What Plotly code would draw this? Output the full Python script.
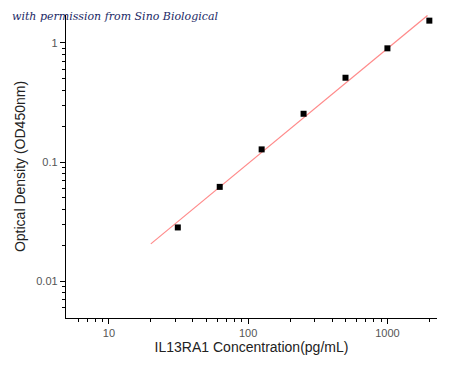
import numpy as np
import plotly.graph_objects as go

concentration = [31.25, 62.5, 125, 250, 500, 1000, 2000]
od450 = [0.0283, 0.0619, 0.1276, 0.2537, 0.5085, 0.897, 1.53]
fit_x_range = [20, 1940]
x_tick_vals = [10, 100, 1000]
x_tick_text = ["10", "100", "1000"]
y_tick_vals = [0.01, 0.1, 1]
y_tick_text = ["0.01", "0.1", "1"]
x_minor = [6, 7, 8, 9, 20, 30, 40, 50, 60, 70, 80, 90, 200, 300, 400, 500, 600, 700, 800, 900, 2000]
y_minor = [0.006, 0.007, 0.008, 0.009, 0.02, 0.03, 0.04, 0.05, 0.06, 0.07, 0.08, 0.09,
           0.2, 0.3, 0.4, 0.5, 0.6, 0.7, 0.8, 0.9]

# linear regression in log-log space
slope, intercept = np.polyfit(np.log10(concentration), np.log10(od450), 1)
fx = np.array(fit_x_range, dtype=float)
fy = 10 ** (intercept + slope * np.log10(fx))

fig = go.Figure()
fig.add_trace(go.Scatter(x=fx, y=fy, mode="lines",
                         line=dict(color="#ff8a8a", width=1.2), hoverinfo="skip"))
fig.add_trace(go.Scatter(x=concentration, y=od450, mode="markers",
                         marker=dict(symbol="square", size=6, color="black")))

axis_common = dict(showline=True, linecolor="black", linewidth=1.3, ticks="outside",
                   ticklen=5, tickwidth=1, tickcolor="black", showgrid=False, zeroline=False,
                   automargin=False,
                   tickfont=dict(family="Liberation Sans, Arial", size=11, color="#555555"),
                   title_font=dict(family="Liberation Sans, Arial", size=14, color="#222222"))

fig.update_xaxes(type="log", range=[0.692, 3.356], tickvals=x_tick_vals, ticktext=x_tick_text,
                 title_text="IL13RA1 Concentration(pg/mL)", title_standoff=1,
                 minor=dict(tickvals=x_minor, ticks="outside", ticklen=3, tickcolor="black"),
                 **axis_common)
fig.update_yaxes(type="log", range=[-2.307, 0.232], tickvals=y_tick_vals, ticktext=y_tick_text,
                 title_text="Optical Density (OD450nm)", title_standoff=7,
                 minor=dict(tickvals=y_minor, ticks="outside", ticklen=3, tickcolor="black"),
                 **axis_common)

fig.add_annotation(text="with permission from Sino Biological", xref="paper", yref="paper",
                   x=-0.151, y=0.996, xanchor="left", yanchor="middle", showarrow=False,
                   font=dict(family="DejaVu Serif", size=11, color="#1c2a66", style="italic"))

fig.update_layout(width=442, height=361, margin=dict(l=58, r=13, t=7, b=51),
                  plot_bgcolor="white", paper_bgcolor="white", showlegend=False)

fig.write_html("out.html")
